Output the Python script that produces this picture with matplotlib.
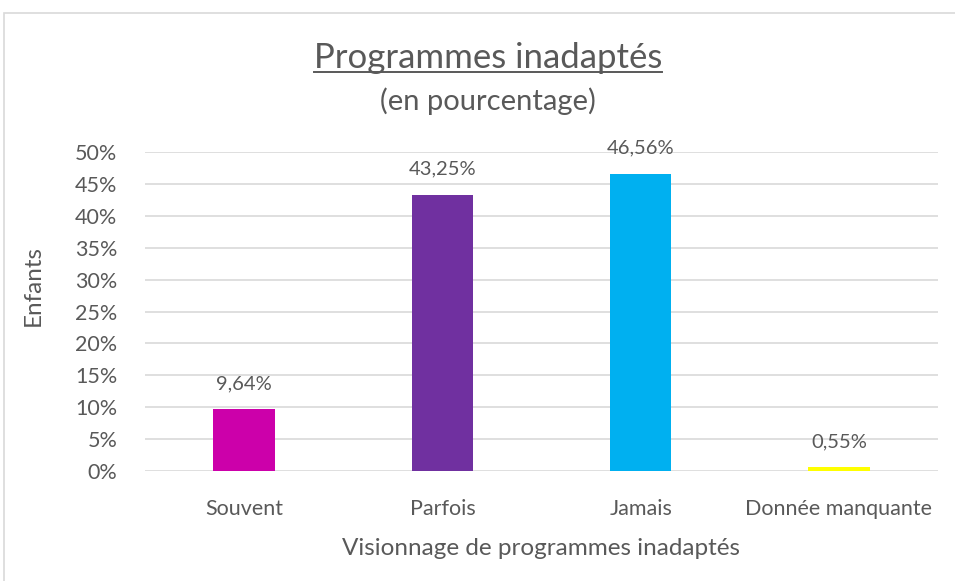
import matplotlib
matplotlib.use("Agg")
import matplotlib.pyplot as plt
from matplotlib.patches import Rectangle
from matplotlib.lines import Line2D
from matplotlib.ticker import FuncFormatter

# Data
categories = ["Souvent", "Parfois", "Jamais", "Donnée manquante"]
values = [9.64, 43.25, 46.56, 0.55]
bar_colors = ["#CC00AA", "#7030A0", "#00B0F0", "#FFFF00"]
value_labels = ["9,64%", "43,25%", "46,56%", "0,55%"]

TEXT = "#595959"
GRID = "#D9D9D9"

plt.rcParams["font.family"] = ["Lato", "DejaVu Sans"]

fig = plt.figure(figsize=(9.55, 5.81), dpi=100)
W, H = 955, 581

# outer chart frame
fig.patches.append(Rectangle((4 / W, -0.1), 1.2, 1 - 13 / H + 0.1,
                             transform=fig.transFigure, fill=False,
                             edgecolor=GRID, linewidth=1.2))

ax = fig.add_axes([145 / W, 1 - 471 / H, (938 - 145) / W, (471 - 152) / H])
x = range(len(categories))
ax.bar(x, values, width=0.31, color=bar_colors, zorder=3)

for xi, v, lab in zip(x, values, value_labels):
    ax.text(xi, v + 2.7, lab, ha="center", va="bottom", fontsize=14.5, color=TEXT)

ax.set_ylim(0, 50)
ax.set_xlim(-0.5, len(categories) - 0.5)
ax.set_yticks(range(0, 51, 5))
ax.yaxis.set_major_formatter(FuncFormatter(lambda v, _: f"{int(v)}%"))
ax.set_xticks(list(x))
ax.set_xticklabels(categories)
ax.tick_params(axis="both", length=0, labelsize=15.5, colors=TEXT)
ax.tick_params(axis="x", pad=20)
ax.tick_params(axis="y", pad=20)
ax.grid(axis="y", color=GRID, linewidth=1.2, zorder=0)
for s in ax.spines.values():
    s.set_visible(False)

ax.set_xlabel("Visionnage de programmes inadaptés", fontsize=17.5, color=TEXT, labelpad=14)
fig.text(33 / W, 1 - 285 / H, "Enfants", rotation=90, ha="center", va="center",
         fontsize=17.5, color=TEXT)

title = fig.text(488 / W, 1 - 58 / H, "Programmes inadaptés", ha="center",
                 va="center", fontsize=25, color=TEXT)
fig.text(488 / W, 1 - 101 / H, "(en pourcentage)", ha="center", va="center",
         fontsize=21, color=TEXT)

# underline the title
fig.canvas.draw()
bb = title.get_window_extent(renderer=fig.canvas.get_renderer())
inv = fig.transFigure.inverted()
(x0, y0), (x1, _) = inv.transform([(bb.x0, bb.y0), (bb.x1, bb.y1)])
fig.lines.append(Line2D([x0, x1], [y0 + 2 / H, y0 + 2 / H], transform=fig.transFigure,
                        color=TEXT, linewidth=1.4))

fig.savefig("out.png", dpi=100)
